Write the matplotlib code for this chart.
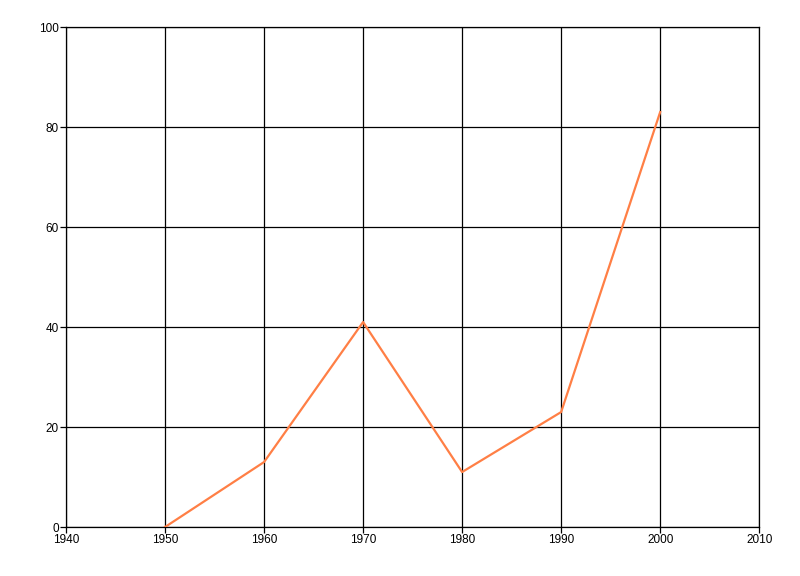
import matplotlib
matplotlib.use('Agg')
import matplotlib.pyplot as plt

plt.rcParams['font.family'] = ['Liberation Sans', 'DejaVu Sans']

years = [1950, 1960, 1970, 1980, 1990, 2000]
values = [0, 13, 41, 11, 23, 83]
xticks = [1940, 1950, 1960, 1970, 1980, 1990, 2000, 2010]
yticks = [0, 20, 40, 60, 80, 100]

fig = plt.figure(figsize=(8, 5.76), dpi=100)
ax = fig.add_axes([0.0825, 0.085, 0.8665, 0.868])

ax.plot(years, values, color='#FF7F45', linewidth=1.6, zorder=3)

ax.set_xlim(1940, 2010)
ax.set_ylim(0, 100)
ax.set_xticks(xticks)
ax.set_yticks(yticks)
ax.grid(True, color='black', linewidth=0.9)
ax.set_axisbelow(True)
for s in ax.spines.values():
    s.set_color('black')
    s.set_linewidth(0.9)
ax.tick_params(labelsize=8.5, length=4, width=0.9, pad=1)

fig.savefig('out.png', dpi=100)
